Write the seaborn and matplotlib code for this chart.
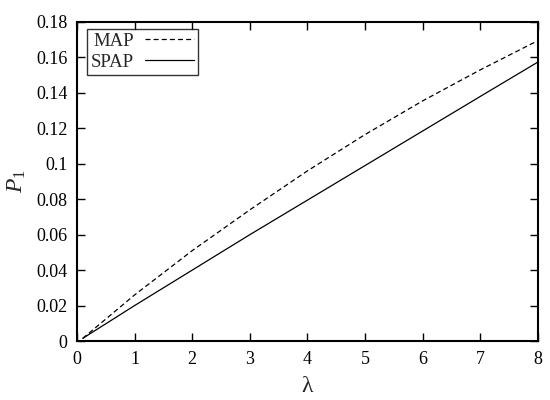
#!/usr/bin/env python3

import matplotlib
matplotlib.use('Agg')
import matplotlib.pyplot as plt
import numpy as np
import pandas as pd
import seaborn as sns

# values
lam = [0.1, 1, 2, 3, 4, 5, 6, 7, 8]
p1_map = [0.0015, 0.026, 0.051, 0.074, 0.096, 0.1165, 0.1355, 0.153, 0.1695]
p1_spap = [0.0015, 0.0200, 0.0400, 0.0600, 0.0795, 0.0990, 0.1185, 0.1380, 0.1574]

x_ticks = [0, 1, 2, 3, 4, 5, 6, 7, 8]
y_ticks = [0, 0.02, 0.04, 0.06, 0.08, 0.1, 0.12, 0.14, 0.16, 0.18]
y_tick_labels = ['0', '0.02', '0.04', '0.06', '0.08', '0.1', '0.12', '0.14', '0.16', '0.18']


def main():
    sns.set_style('ticks')
    plt.rcParams['font.family'] = ['Liberation Serif', 'DejaVu Serif']
    plt.rcParams['mathtext.fontset'] = 'custom'
    plt.rcParams['mathtext.rm'] = 'Liberation Serif'
    plt.rcParams['mathtext.it'] = 'Liberation Serif:italic'

    df = pd.DataFrame({
        'lam': lam * 2,
        'p1': p1_map + p1_spap,
        'method': ['MAP'] * len(lam) + ['SPAP'] * len(lam),
    })

    fig = plt.figure(figsize=(5.5, 4), dpi=100)
    ax = fig.add_axes([0.14, 0.1475, 0.838, 0.7975])

    sns.lineplot(data=df, x='lam', y='p1', style='method',
                 dashes={'MAP': (4, 2.5), 'SPAP': ''},
                 color='black', linewidth=0.9, ax=ax)

    ax.set_xlim(0, 8)
    ax.set_ylim(0, 0.18)
    ax.set_xticks(x_ticks)
    ax.set_yticks(y_ticks)
    ax.set_yticklabels(y_tick_labels)
    ax.tick_params(direction='in', length=6, width=1, top=True, right=True,
                   labelsize=13, pad=7, colors='black')
    for sp in ax.spines.values():
        sp.set_linewidth(1.5)
        sp.set_color('black')

    ax.set_xlabel('λ', fontsize=17, labelpad=6)
    ax.set_ylabel('$P_\\mathrm{1}$', fontsize=17, labelpad=6)

    leg = ax.legend(loc='upper left', bbox_to_anchor=(0.022, 0.978),
                    markerfirst=False, fontsize=13.5,
                    frameon=True, fancybox=False, edgecolor='black',
                    handlelength=2.6, borderpad=0.2, labelspacing=0.2,
                    handletextpad=0.6, borderaxespad=0.0)
    leg.get_frame().set_linewidth(1.0)

    fig.savefig('out.png', dpi=100)


if __name__ == "__main__":
    main()
